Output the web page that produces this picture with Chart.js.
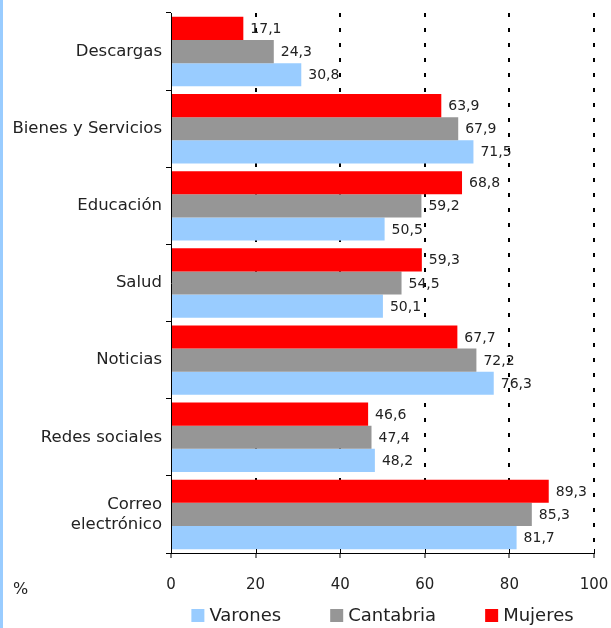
<!DOCTYPE html>
<html>
<head>
<meta charset="utf-8">
<script src="https://cdn.jsdelivr.net/npm/chart.js@4.4.1/dist/chart.umd.min.js"></script>
<style>
  html, body { margin: 0; padding: 0; background: #fff; }
  #wrap { position: relative; width: 611px; height: 628px; }
</style>
</head>
<body>
<div id="wrap"><canvas id="chart"></canvas></div>
<script>
// Categories top to bottom
const categories = ['Descargas', 'Bienes y Servicios', 'Educación', 'Salud', 'Noticias', 'Redes sociales', ['Correo', 'electrónico']];

// Series values (%)
const mujeres   = [17.1, 63.9, 68.8, 59.3, 67.7, 46.6, 89.3];
const cantabria = [24.3, 67.9, 59.2, 54.5, 72.2, 47.4, 85.3];
const varones   = [30.8, 71.5, 50.5, 50.1, 76.3, 48.2, 81.7];

// Axis
const xMin = 0, xMax = 100, xStep = 20;

const FONT = '"DejaVu Sans", "Liberation Sans", sans-serif';
const TEXT = '#222';

// Value labels at bar ends, comma decimals
const valueLabels = {
  id: 'valueLabels',
  afterDatasetsDraw: function (chart) {
    const ctx = chart.ctx;
    ctx.save();
    ctx.font = '14px ' + FONT;
    ctx.fillStyle = TEXT;
    ctx.textBaseline = 'middle';
    ctx.textAlign = 'left';
    chart.data.datasets.forEach(function (ds, i) {
      chart.getDatasetMeta(i).data.forEach(function (bar, j) {
        ctx.fillText(ds.data[j].toFixed(1).replace('.', ','), bar.x + 7, bar.y + 1);
      });
    });
    ctx.restore();
  }
};

// Blue rule on the left edge, inner x ticks, "%" unit and the legend row
const extras = {
  id: 'extras',
  afterDraw: function (chart) {
    const ctx = chart.ctx;
    const xs = chart.scales.x;
    const area = chart.chartArea;
    ctx.save();
    ctx.fillStyle = '#99ccff';
    ctx.fillRect(0, 0, 3, chart.height);

    ctx.strokeStyle = '#000';
    ctx.lineWidth = 1;
    xs.ticks.forEach(function (t) {
      const px = Math.round(xs.getPixelForValue(t.value)) + 0.5;
      ctx.beginPath();
      ctx.moveTo(px, xs.top - 4);
      ctx.lineTo(px, xs.top);
      ctx.stroke();
    });

    ctx.font = '16px ' + FONT;
    ctx.fillStyle = TEXT;
    ctx.textBaseline = 'middle';
    ctx.fillText('%', 13, 590);

    // legend: reversed series order, centred under the plot area
    const items = chart.data.datasets.slice().reverse();
    const box = 13, gapText = 5, gapItem = 49;
    ctx.font = '18px ' + FONT;
    const widths = items.map(function (ds) { return ctx.measureText(ds.label).width; });
    let total = 0;
    widths.forEach(function (w, i) { total += box + gapText + w + (i < widths.length - 1 ? gapItem : 0); });
    let x = (area.left + area.right) / 2 - total / 2;
    const y = 615;
    items.forEach(function (ds, i) {
      ctx.fillStyle = ds.backgroundColor;
      ctx.fillRect(x, y - 6, box, box);
      ctx.fillStyle = TEXT;
      ctx.fillText(ds.label, x + box + gapText, y + 1);
      x += box + gapText + widths[i] + gapItem;
    });
    ctx.restore();
  }
};

new Chart(document.getElementById('chart'), {
  type: 'bar',
  data: {
    labels: categories,
    datasets: [
      { label: 'Mujeres', data: mujeres, backgroundColor: '#ff0000' },
      { label: 'Cantabria', data: cantabria, backgroundColor: '#969696' },
      { label: 'Varones', data: varones, backgroundColor: '#99ccff' }
    ]
  },
  options: {
    indexAxis: 'y',
    responsive: true,
    maintainAspectRatio: false,
    animation: false,
    categoryPercentage: 0.9,
    barPercentage: 1.0,
    layout: { padding: { top: 13, right: 17, left: 4, bottom: 28 } },
    plugins: {
      tooltip: { enabled: false },
      legend: { display: false }
    },
    scales: {
      x: {
        min: xMin,
        max: xMax,
        ticks: { stepSize: xStep, color: TEXT, font: { family: FONT, size: 15 }, padding: 18 },
        border: { display: true, color: '#000', width: 1, dash: [4, 11] },
        grid: {
          color: function (c) { return c.tick && c.tick.value === 0 ? 'rgba(0,0,0,0)' : '#000'; },
          lineWidth: 2,
          drawTicks: true,
          tickLength: 5,
          tickColor: '#000',
          tickWidth: 1,
          tickBorderDash: []
        },
        afterFit: function (s) { s.height = 47; s.paddingLeft = 0; s.paddingRight = 0; }
      },
      y: {
        offset: true,
        ticks: { color: TEXT, font: { family: FONT, size: 16.5 }, padding: 4 },
        border: { display: true, color: '#000', width: 1 },
        grid: {
          offset: true,
          drawOnChartArea: false,
          drawTicks: true,
          tickLength: 5,
          color: '#000'
        },
        afterFit: function (s) { s.width = 167; s.paddingTop = 0; s.paddingBottom = 0; }
      }
    }
  },
  plugins: [valueLabels, extras]
});
</script>
</body>
</html>
